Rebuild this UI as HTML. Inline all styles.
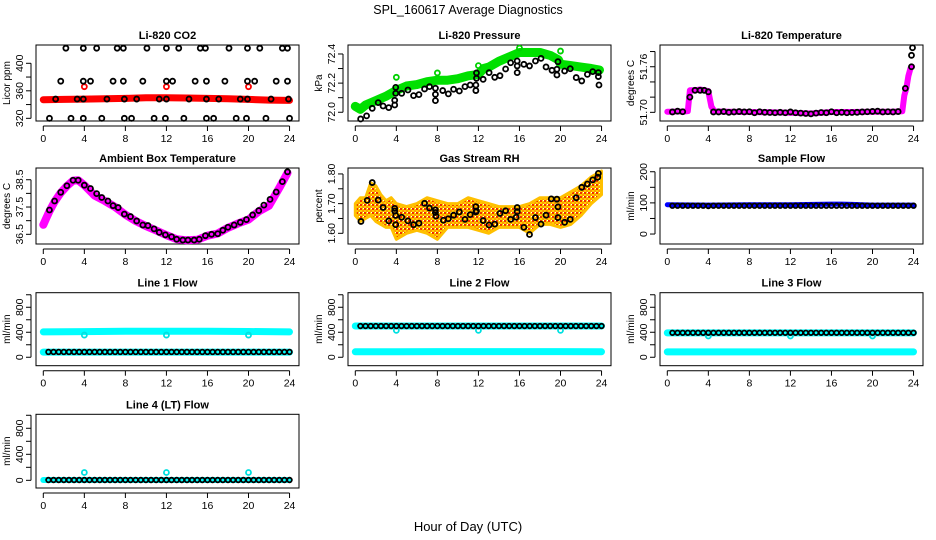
<!DOCTYPE html>
<html><head><meta charset="utf-8"><style>
html,body{margin:0;padding:0;background:#fff;}
svg{display:block;font-family:"Liberation Sans",sans-serif;}
</style></head><body>
<svg id="chart" width="936" height="540" viewBox="0 0 936 540" xmlns="http://www.w3.org/2000/svg">
<defs>
<pattern id="rhpat" width="4" height="4" patternUnits="userSpaceOnUse">
<rect width="4" height="4" fill="#ffd000"/><rect width="2" height="2" fill="#f03000"/><rect x="2" y="2" width="2" height="2" fill="#ff9a00"/><rect x="3" y="0" width="1" height="1" fill="#fff"/>
</pattern>
</defs>
<text x="468" y="14" font-size="12.5" text-anchor="middle">SPL_160617  Average Diagnostics</text>
<text x="468" y="531" font-size="13" text-anchor="middle">Hour of Day (UTC)</text>
</svg>
<script>
// ---- shared hours ----
const hoursHalf = [0.5,1,1.5,2,2.5,3,3.5,4,4.5,5,5.5,6,6.5,7,7.5,8,8.5,9,9.5,10,10.5,11,11.5,12,12.5,13,13.5,14,14.5,15,15.5,16,16.5,17,17.5,18,18.5,19,19.5,20,20.5,21,21.5,22,22.5,23,23.5,24];
const xTicks = [0,4,8,12,16,20,24];

// ---- CO2 ----
const co2BlackH = [2.2,3.9,5.2,7.2,7.8,10.1,12,13.2,15.3,15.8,18.1,19.9,21.1,23.3,23.8, 1.7,3.9,4.6,6.8,7.8,9.7,12,12.6,14.8,15.9,17.7,19.9,20.6,22.7,23.8, 1.2,3.3,3.9,6.2,7.9,9.1,11.3,12,14.2,15.9,17.1,19.2,19.9,22.2,23.9, 0.6,2.7,3.9,5.7,7.9,8.6,10.8,11.9,13.7,15.9,16.6,18.8,19.8,21.7,24];
const co2BlackV = [422,422,422,422,422,422,422,422,422,422,422,422,422,422,422, 374,374,374,374,374,374,374,374,374,374,374,374,374,374,374, 348,348,348,348,348,348,348,348,348,348,348,348,348,348,348, 320,320,320,320,320,320,320,320,320,320,320,320,320,320,320];
const co2RedH = [0,2,4,6,8,10,12,14,16,18,20,22,24];
const co2RedV = [347,347.5,348,348.5,349,350,350,349.5,349,348.5,347.5,346.5,346];
const co2OutH = [4,12,20];
const co2OutV = [366,366,366];

// ---- Pressure ----
const presGreenH = [0,0.5,1,2,3,4,5,6,7,8,9,10,11,12,12.5,13,14,15,16,17,18,19,19.8,20,21,22,23,23.8];
const presGreenV = [72.04,72.02,72.05,72.08,72.11,72.15,72.18,72.19,72.21,72.22,72.22,72.23,72.25,72.26,72.3,72.31,72.35,72.38,72.41,72.41,72.41,72.39,72.36,72.33,72.32,72.31,72.30,72.29];
const presOutH = [4,8,12,16,20];
const presOutV = [72.24,72.27,72.32,72.44,72.42];
const presBlackH = [0.52,1.10,1.65,2.23,2.71,3.26,3.84,3.84,3.94,3.94,4.52,5.13,5.68,6.2,6.75,7.23,7.81,7.81,7.81,8.52,9.07,9.58,10.14,10.69,11.2,11.75,11.75,11.81,11.81,12.46,13.04,13.59,14.1,14.65,15.14,15.78,15.78,15.78,16.43,16.98,17.56,18.1,18.59,19.17,19.65,19.65,19.75,20.4,20.95,21.53,22.07,22.62,23.14,23.69,23.69,23.75];
const presBlackV = [71.954,71.975,72.027,72.066,72.043,72.032,72.082,72.05,72.171,72.13,72.13,72.153,72.114,72.121,72.16,72.176,72.165,72.123,72.08,72.149,72.126,72.158,72.146,72.176,72.187,72.149,72.187,72.233,72.27,72.226,72.272,72.24,72.251,72.297,72.34,72.352,72.318,72.272,72.329,72.318,72.352,72.37,72.311,72.288,72.295,72.256,72.347,72.283,72.299,72.238,72.215,72.26,72.279,72.272,72.245,72.187];

// ---- Li-820 Temperature ----
const tempMagH = [0,0.5,1,1.5,2,2.2,2.7,3.2,3.6,4,4.3,4.6,6,8,10,12,13,14,15,16,18,20,22,22.9,23.1,23.3,23.5,23.7,23.85];
const tempMagV = [51.7008,51.7008,51.7012,51.7008,51.7015,51.729,51.729,51.730,51.729,51.728,51.7075,51.7012,51.7008,51.7005,51.7,51.6995,51.699,51.6985,51.6995,51.7005,51.7005,51.7008,51.7008,51.7015,51.722,51.732,51.748,51.758,51.76];
const tempBlackH = [0.5,1,1.5,2.2,2.7,3.2,3.6,4,4.5,5,5.5,6,6.5,7,7.5,8,8.5,9,9.5,10,10.5,11,11.5,12,12.5,13,13.5,14,14.5,15,15.5,16,16.5,17,17.5,18,18.5,19,19.5,20,20.5,21,21.5,22,22.5,23.2,23.8,23.8,23.9];
const tempBlackV = [51.7005,51.7015,51.7008,51.720,51.729,51.729,51.729,51.727,51.7005,51.7005,51.701,51.7,51.7005,51.701,51.7005,51.7008,51.6995,51.7008,51.7,51.6998,51.6995,51.7,51.6995,51.7005,51.6995,51.699,51.6985,51.698,51.699,51.6998,51.6995,51.7008,51.6995,51.7,51.6995,51.6998,51.7,51.7005,51.7008,51.7012,51.7015,51.7005,51.7008,51.7005,51.701,51.7315,51.76,51.775,51.785];

// ---- Ambient Box Temperature ----
const ambH = [0.6,1.1,1.7,2.3,2.9,3.4,4,4.6,5.2,5.7,6.3,6.8,7.3,7.9,8.5,9.1,9.7,10.2,10.8,11.3,11.9,12.5,13,13.6,14.1,14.7,15.2,15.8,16.4,17,17.5,18,18.6,19.2,19.8,20.4,21,21.5,22.1,22.7,23.3,23.8];
const ambV = [37.39,37.72,38.04,38.28,38.48,38.48,38.30,38.18,37.99,37.85,37.72,37.55,37.48,37.24,37.15,36.99,36.84,36.82,36.70,36.57,36.48,36.41,36.32,36.29,36.29,36.29,36.32,36.45,36.5,36.52,36.65,36.76,36.84,36.94,37.04,37.21,37.37,37.57,37.78,38.05,38.43,38.79];
const ambMagH = [0,0.3,0.6,1.1,1.7,2.3,2.9,3.4,4,5,6,7,8,9,10,11,12,13,14,15,16,17,18,19,20,21,22,23,23.8];
const ambMagV = [36.85,37.1,37.35,37.7,38.02,38.27,38.47,38.48,38.3,37.92,37.72,37.5,37.22,36.99,36.8,36.64,36.47,36.32,36.28,36.3,36.45,36.53,36.74,36.9,37.04,37.34,37.55,38.2,38.75];

// ---- Gas Stream RH ----
const rhBandH = [0,0.5,1,1.5,2,2.5,3,3.5,4,5,6,7,8,9,10,11,12,13,14,15,16,17,18,19,20,21,22,23,24];
const rhUpper = [1.70,1.72,1.72,1.77,1.76,1.73,1.71,1.72,1.70,1.69,1.70,1.72,1.71,1.70,1.70,1.72,1.71,1.70,1.69,1.69,1.69,1.70,1.72,1.72,1.72,1.74,1.76,1.79,1.81];
const rhLower = [1.66,1.64,1.65,1.66,1.64,1.63,1.62,1.62,1.58,1.60,1.61,1.60,1.58,1.62,1.62,1.62,1.61,1.60,1.62,1.62,1.62,1.60,1.63,1.63,1.62,1.63,1.66,1.70,1.73];
const rhBlackH = [0.55,1.16,1.65,2.23,2.71,3.26,3.84,3.84,3.94,3.94,4.52,5.13,5.68,6.2,6.75,7.23,7.81,7.81,7.87,8.59,9.07,9.58,10.14,10.69,11.2,11.75,11.75,11.81,12.46,13.04,13.59,14.1,14.65,15.14,15.68,15.78,15.78,16.43,16.98,17.56,18.1,18.59,19.1,19.65,19.75,19.75,20.4,20.95,21.53,22.07,22.62,23.14,23.63,23.69];
const rhBlackV = [1.640,1.711,1.771,1.712,1.687,1.642,1.684,1.675,1.660,1.629,1.654,1.642,1.629,1.634,1.701,1.685,1.679,1.670,1.658,1.644,1.649,1.661,1.672,1.647,1.663,1.672,1.690,1.675,1.643,1.628,1.631,1.667,1.676,1.647,1.654,1.673,1.687,1.620,1.596,1.653,1.631,1.661,1.716,1.715,1.689,1.653,1.637,1.647,1.720,1.755,1.766,1.780,1.789,1.802];

// ---- Sample Flow ----
const sampBlueH = [0,4,8,12,16,17,18,19,20,24];
const sampBlueV = [94,93,94,94,96,96,95,94,93,93];
const sampBlackV = [91,91,91,91,91,91,91,90,91,91,91,91,91,91,91,91,91,91,91,91,91,91,91,91,91,91,91,91,91,91,91,91,91,91,91,91,91,91,91,91,91,91,91,91,91,91,91,91];

// ---- Line flows ----
const bandH = [0,4,8,12,16,20,24];
const line1CyanHigh = [405,410,415,415,415,412,405];
const line1CyanLow = [82,82,82,82,82,82,82];
const line1DipH = [4,12,20];
const line1DipV = [355,355,355];
const line1Black = [85,85,85,85,85,85,85,85,85,85,85,85,85,85,85,85,85,85,85,85,85,85,85,85,85,85,85,85,85,85,85,85,85,85,85,85,85,85,85,85,85,85,85,85,85,85,85,85];
const line2CyanHigh = [500,500,500,500,500,500,500];
const line2CyanLow = [88,88,90,90,90,90,88];
const line2DipV = [430,430,430];
const line2Black = [500,500,500,500,500,500,500,500,500,500,500,500,500,500,500,500,500,500,500,500,500,500,500,500,500,500,500,500,500,500,500,500,500,500,500,500,500,500,500,500,500,500,500,500,500,500,500,500];
const line3CyanHigh = [390,390,390,390,390,390,390];
const line3CyanLow = [85,85,85,85,85,85,85];
const line3DipV = [340,340,340];
const line3Black = [392,392,392,392,392,392,392,392,392,392,392,392,392,392,392,392,392,392,392,392,392,392,392,392,392,392,392,392,392,392,392,392,392,392,392,392,392,392,392,392,392,392,392,392,392,392,392,392];
const line4CyanLow = [5,5,5,5,5,5,5];
const line4SpikeV = [120,120,120];
const line4Black = [5,5,5,5,5,5,5,5,5,5,5,5,5,5,5,5,5,5,5,5,5,5,5,5,5,5,5,5,5,5,5,5,5,5,5,5,5,5,5,5,5,5,5,5,5,5,5,5];

const NS = "http://www.w3.org/2000/svg";
const svg = document.getElementById('chart');
const colLeft = [36, 348, 660];
const rowBox = [[45,121],[168,244],[292.7,365.7],[414.3,488]];

function mk(tag, attrs, parent){
  const e = document.createElementNS(NS, tag);
  for (const k in attrs) e.setAttribute(k, attrs[k]);
  (parent||svg).appendChild(e);
  return e;
}

function panel(col,row,title,ylab,lo,hi,ticks,labels,fmt,name){
  const L = colLeft[col], R = L+263, T = rowBox[row][0], B = rowBox[row][1];
  const g = mk('g',{});
  
  
  const X = h => L+7.3 + h*10.26;
  const Y = v => B - (v-lo)/(hi-lo)*(B-T);
  const box = mk('rect',{x:L,y:T,width:R-L,height:B-T,fill:'none',stroke:'#000','stroke-width':1},g);
  
  
  const t = mk('text',{x:(L+R)/2,y:T-6,'font-size':11,'font-weight':'bold','text-anchor':'middle'},g);
  t.textContent = title;
  
  
  const xa = mk('g',{},g);
  
  
  mk('line',{x1:X(0),x2:X(24),y1:B+5,y2:B+5,stroke:'#000'},xa);
  xTicks.forEach(h=>{
    mk('line',{x1:X(h),x2:X(h),y1:B+5,y2:B+10,stroke:'#000'},xa);
    const tl = mk('text',{x:X(h),y:B+21,'font-size':10.5,'text-anchor':'middle'},xa);
    tl.textContent = h;
    
    
  });
  const ya = mk('g',{},g);
  
  
  mk('line',{x1:L-5,x2:L-5,y1:Y(ticks[0]),y2:Y(ticks[ticks.length-1]),stroke:'#000'},ya);
  ticks.forEach(v=>{
    mk('line',{x1:L-10,x2:L-5,y1:Y(v),y2:Y(v),stroke:'#000'},ya);
  });
  labels.forEach(v=>{
    const yl = mk('text',{x:0,y:0,'font-size':10.5,'text-anchor':'middle',transform:`translate(${L-13},${Y(v)}) rotate(-90)`},ya);
    yl.textContent = fmt(v);
    
    
  });
  const yt = mk('text',{x:0,y:0,'font-size':10,'text-anchor':'middle',transform:`translate(${L-26},${(T+B)/2}) rotate(-90)`},g);
  yt.textContent = ylab;
  
  
  const clip = 'clip'+name;
  const cp = mk('clipPath',{id:clip},g);
  mk('rect',{x:L,y:T-8,width:R-L,height:B-T+16},cp);
  const plot = mk('g',{'clip-path':`url(#${clip})`},g);
  
  
  return {X,Y,plot};
}
function band(p,xs,ys,color,w,name){
  const pts = xs.map((h,i)=>p.X(h).toFixed(1)+','+p.Y(ys[i]).toFixed(1)).join(' ');
  const e = mk('polyline',{points:pts,fill:'none',stroke:color,'stroke-width':w,'stroke-linecap':'round','stroke-linejoin':'round'},p.plot);
  
  
}
function pts(p,xs,ys,color,name,r){
  const g = mk('g',{},p.plot);
  
  
  xs.forEach((h,i)=>{
    const c = mk('circle',{cx:p.X(h),cy:p.Y(ys[i]),r:r||2.5,fill:'none',stroke:color,'stroke-width':1.8},g);
    
    
  });
}
const f0 = v=>String(v), f1 = v=>v.toFixed(1), f2 = v=>v.toFixed(2);

let p = panel(0,0,'Li-820 CO2','Licor ppm',316.1,426.6,[320,340,360,380,400],[320,360,400],f0,'co2');
band(p,co2RedH,co2RedV,'#ff0000',7,'co2-red-band');
pts(p,co2OutH,co2OutV,'#ff0000','co2-red-outliers');
pts(p,co2BlackH,co2BlackV,'#000','co2-black-points');

p = panel(1,0,'Li-820 Pressure','kPa',71.94,72.4616,[72.0,72.1,72.2,72.3,72.4],[72.0,72.2,72.4],f1,'pressure');
band(p,presGreenH,presGreenV,'#00e000',9,'pressure-green-band');
pts(p,presOutH,presOutV,'#00d000','pressure-green-outliers');
pts(p,presBlackH,presBlackV,'#000','pressure-black-points');

p = panel(2,0,'Li-820 Temperature','degrees C',51.6886,51.7886,[51.70,51.72,51.74,51.76,51.78],[51.70,51.76],f2,'li820-temp');
band(p,tempMagH,tempMagV,'#ff00ff',6,'li820-temp-magenta-band');
pts(p,tempBlackH,tempBlackV,'#000','li820-temp-black-points');

p = panel(0,1,'Ambient Box Temperature','degrees C',36.145,38.93,[36.5,37,37.5,38,38.5],[36.5,37.5,38.5],f1,'ambient');
band(p,ambMagH,ambMagV,'#ff00ff',8,'ambient-magenta-band');
pts(p,ambH,ambV,'#000','ambient-black-points');

p = panel(1,1,'Gas Stream RH','percent',1.564,1.820,[1.60,1.65,1.70,1.75,1.80],[1.60,1.70,1.80],f2,'rh');
{
  const up = rhBandH.map((h,i)=>p.X(h).toFixed(1)+','+p.Y(rhUpper[i]).toFixed(1));
  const dn = rhBandH.map((h,i)=>p.X(h).toFixed(1)+','+p.Y(rhLower[i]).toFixed(1)).reverse();
  const poly = mk('polygon',{points:up.concat(dn).join(' '),fill:'url(#rhpat)',stroke:'#ffc000','stroke-width':3,'stroke-linejoin':'round'},p.plot);
  
  
}
pts(p,rhBlackH,rhBlackV,'#000','rh-black-points');

p = panel(2,1,'Sample Flow','ml/min',-32,212,[0,50,100,150,200],[0,100,200],f0,'sample-flow');
band(p,sampBlueH,sampBlueV,'#0000ff',5,'sample-flow-blue-band');
pts(p,hoursHalf,sampBlackV,'#000','sample-flow-black-points',2.3);

const flowTicks=[0,200,400,600,800,1000], flowLabels=[0,400,800];
p = panel(0,2,'Line 1 Flow','ml/min',-135,1033,flowTicks,flowLabels,f0,'line1');
band(p,bandH,line1CyanHigh,'#00ffff',7,'line1-cyan-high-band');
band(p,bandH,line1CyanLow,'#00ffff',7,'line1-cyan-low-band');
pts(p,line1DipH,line1DipV,'#00e0e0','line1-cyan-dips');
pts(p,hoursHalf,line1Black,'#000','line1-black-points',2.3);

p = panel(1,2,'Line 2 Flow','ml/min',-135,1033,flowTicks,flowLabels,f0,'line2');
band(p,bandH,line2CyanHigh,'#00ffff',7,'line2-cyan-high-band');
band(p,bandH,line2CyanLow,'#00ffff',7,'line2-cyan-low-band');
pts(p,line1DipH,line2DipV,'#00e0e0','line2-cyan-dips');
pts(p,hoursHalf,line2Black,'#000','line2-black-points',2.3);

p = panel(2,2,'Line 3 Flow','ml/min',-135,1033,flowTicks,flowLabels,f0,'line3');
band(p,bandH,line3CyanHigh,'#00ffff',7,'line3-cyan-high-band');
band(p,bandH,line3CyanLow,'#00ffff',7,'line3-cyan-low-band');
pts(p,line1DipH,line3DipV,'#00e0e0','line3-cyan-dips');
pts(p,hoursHalf,line3Black,'#000','line3-black-points',2.3);

p = panel(0,3,'Line 4 (LT) Flow','ml/min',-118,1015,flowTicks,flowLabels,f0,'line4');
band(p,bandH,line4CyanLow,'#00ffff',6,'line4-cyan-band');
pts(p,line1DipH,line4SpikeV,'#00e0e0','line4-cyan-spikes');
pts(p,hoursHalf,line4Black,'#000','line4-black-points',2.3);
</script>
</body></html>
